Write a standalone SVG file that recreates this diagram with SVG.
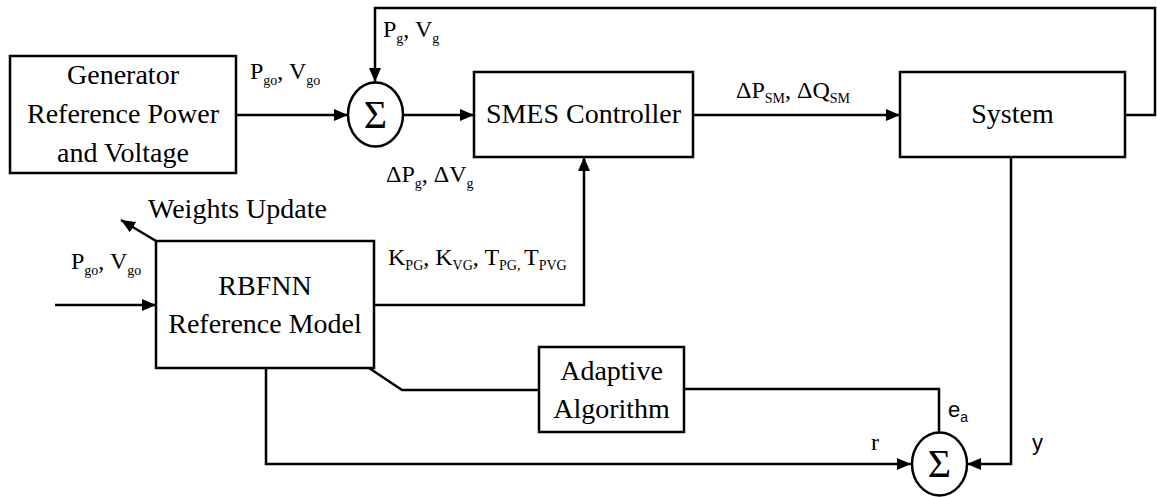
<svg xmlns="http://www.w3.org/2000/svg" width="1157" height="497" viewBox="0 0 1157 497">
<style>
.box{fill:#fff;stroke:#000;stroke-width:2.5}
.sum{fill:#fff;stroke:#000;stroke-width:2.5}
.wire{fill:none;stroke:#000;stroke-width:2.5}
.t{font-family:"Liberation Serif","Times New Roman",serif;font-size:28px;fill:#000;text-anchor:middle}
.sig{font-family:"Liberation Serif","Times New Roman",serif;font-size:40px;fill:#000;text-anchor:middle}
.lbl{font-family:"Liberation Serif","Times New Roman",serif;font-size:24px;fill:#000}
.sub{font-size:14px}
.sans{font-family:"Liberation Sans",Arial,sans-serif;font-size:22px;fill:#000}
</style>
<defs>
<marker id="arr" markerUnits="userSpaceOnUse" markerWidth="15" markerHeight="13" refX="14" refY="6" orient="auto">
<path d="M0,0 L14,6 L0,12 z" fill="#000"/>
</marker>
</defs>

<g id="connectors">
<path class="wire" d="M236,115 H348" marker-end="url(#arr)"/>
<path class="wire" d="M403,115 H474" marker-end="url(#arr)"/>
<path class="wire" d="M693,115 H900" marker-end="url(#arr)"/>
<path class="wire" d="M1125,115 H1155 V8 H375 V82" marker-end="url(#arr)"/>
<path class="wire" d="M374,305 H584 V157" marker-end="url(#arr)"/>
<path class="wire" d="M55,305 H156" marker-end="url(#arr)"/>
<path class="wire" d="M156,241 L121,220" marker-end="url(#arr)"/>
<path class="wire" d="M369,368 L402,390 H539"/>
<path class="wire" d="M684,389 H939 V432"/>
<path class="wire" d="M266,368 V464 H911" marker-end="url(#arr)"/>
<path class="wire" d="M1011,157 V464 H967" marker-end="url(#arr)"/>
</g>

<g id="generator">
<rect class="box" x="10" y="56" width="226" height="117"/>
<text class="t" x="123" y="84">Generator</text>
<text class="t" x="123" y="123">Reference Power</text>
<text class="t" x="123" y="162">and Voltage</text>
</g>

<g id="sum1">
<ellipse class="sum" cx="375.5" cy="114.5" rx="27.5" ry="32"/>
<text class="sig" x="375.5" y="128">Σ</text>
</g>

<g id="smes">
<rect class="box" x="474" y="72" width="219" height="85"/>
<text class="t" x="583.5" y="123">SMES Controller</text>
</g>

<g id="system">
<rect class="box" x="900" y="72" width="225" height="85"/>
<text class="t" x="1012.5" y="123">System</text>
</g>

<g id="rbfnn">
<rect class="box" x="156" y="241" width="218" height="127"/>
<text class="t" x="265" y="295">RBFNN</text>
<text class="t" x="265" y="333">Reference Model</text>
</g>

<g id="adaptive">
<rect class="box" x="539" y="347" width="145" height="85"/>
<text class="t" x="611.5" y="380">Adaptive</text>
<text class="t" x="611.5" y="418">Algorithm</text>
</g>

<g id="sum2">
<ellipse class="sum" cx="939.5" cy="464" rx="27.5" ry="31.5"/>
<text class="sig" x="939.5" y="477">Σ</text>
</g>

<g id="labels">
<text class="lbl" x="383" y="37">P<tspan class="sub" dy="6">g</tspan><tspan dy="-6">, V</tspan><tspan class="sub" dy="6">g</tspan></text>
<text class="lbl" x="250" y="79">P<tspan class="sub" dy="6">go</tspan><tspan dy="-6">, V</tspan><tspan class="sub" dy="6">go</tspan></text>
<text class="lbl" x="386" y="182">ΔP<tspan class="sub" dy="6">g</tspan><tspan dy="-6">, ΔV</tspan><tspan class="sub" dy="6">g</tspan></text>
<text class="lbl" x="736" y="98">ΔP<tspan class="sub" dy="5">SM</tspan><tspan dy="-5">, ΔQ</tspan><tspan class="sub" dy="5">SM</tspan></text>
<text class="t" x="148" y="218" style="text-anchor:start">Weights Update</text>
<text class="lbl" x="71" y="269">P<tspan class="sub" dy="6">go</tspan><tspan dy="-6">, V</tspan><tspan class="sub" dy="6">go</tspan></text>
<text class="lbl" x="388" y="265">K<tspan class="sub" dy="5">PG</tspan><tspan dy="-5">, K</tspan><tspan class="sub" dy="5">VG</tspan><tspan dy="-5">, T</tspan><tspan class="sub" dy="5">PG, </tspan><tspan dy="-5">T</tspan><tspan class="sub" dy="5">PVG</tspan></text>
<text class="sans" x="948" y="417">e<tspan style="font-size:14px" dy="5">a</tspan></text>
<text class="lbl" x="871" y="450">r</text>
<text class="sans" x="1032" y="450">y</text>
</g>
</svg>
